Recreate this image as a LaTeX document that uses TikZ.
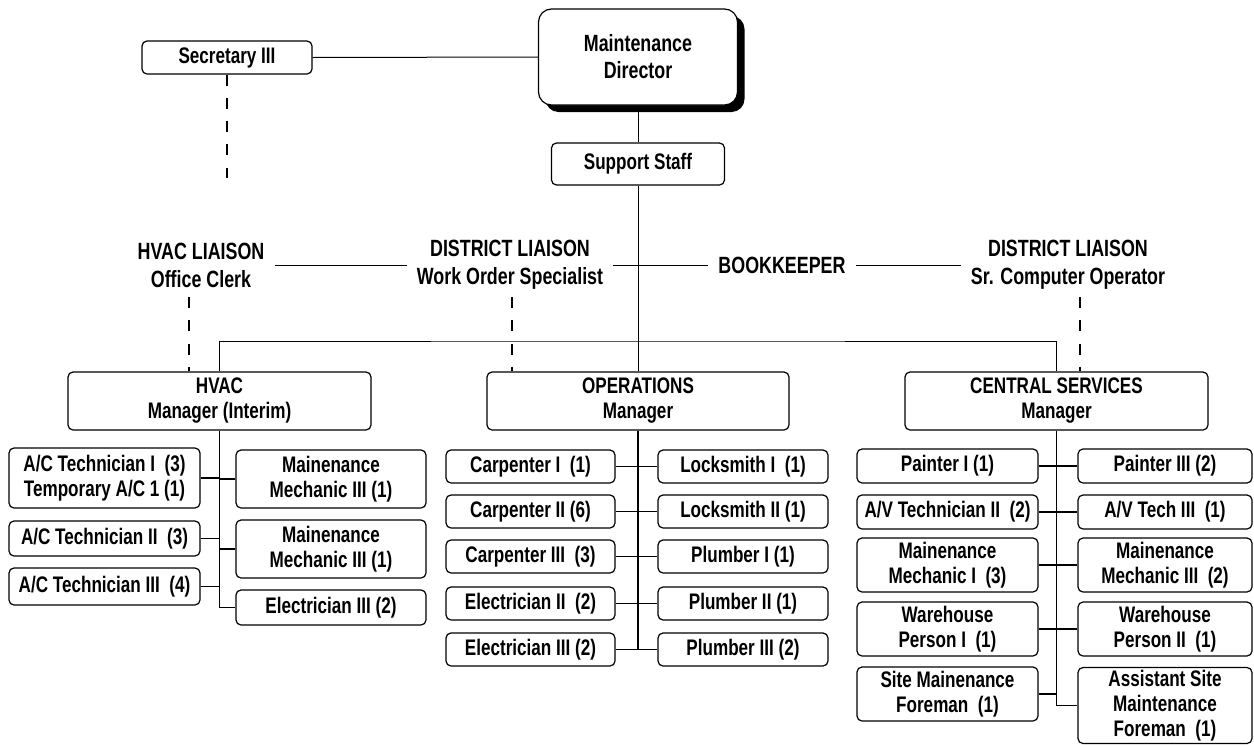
\documentclass[tikz,border=0pt]{standalone}
\usepackage{fontspec}
\setmainfont{Liberation Sans}[FakeStretch=0.76]
\usetikzlibrary{shadows}

\newcommand\boxfont{\fontsize{22.5}{25}\selectfont\bfseries}
\newcommand\liaisonfont{\fontsize{23.5}{28}\selectfont\bfseries}
\newcommand\headfont{\fontsize{23.5}{27}\selectfont\bfseries}

\tikzset{
  box/.style={draw, fill=white, rounded corners=5pt, line width=1.2pt,
    inner sep=0pt, align=center, font=\boxfont},
  sz/.style 2 args={minimum width=#1pt, minimum height=#2pt},
  liaison/.style={inner xsep=10pt, inner ysep=0pt, align=center, font=\liaisonfont},
  thinline/.style={line width=1pt},
  link/.style={line width=1.4pt},
  dotted link/.style={line width=2.6pt, dash pattern=on 11pt off 12.25pt},
}

\begin{document}
\begin{tikzpicture}[x=1pt, y=-1pt]
\useasboundingbox (0,0) rectangle (1254,745);

% ---- top of the chart ----
\node[box, sz={170}{33}] (sec) at (227,57.5) {Secretary III};
\node[box, sz={199}{96}, rounded corners=13pt, font=\headfont,
      drop shadow={shadow xshift=7pt, shadow yshift=-7pt, fill=black, opacity=1}]
      (dir) at (638,57) {Maintenance\\Director};
\node[box, sz={173}{42}] (sup) at (638,164) {Support Staff};

\coordinate (secEnd) at (227,178);
\draw[thinline] (sec.east) -- (dir.west);
\draw[dotted link] (sec.south) -- (secEnd);
\draw[thinline] (dir.south) -- (sup.north);

% ---- liaison row ----
\node[liaison] (hl)  at (201,265)  {HVAC LIAISON\\Office Clerk};
\node[liaison] (dl1) at (510,265)  {DISTRICT LIAISON\\Work Order Specialist};
\node[liaison] (bk)  at (782,265)  {BOOKKEEPER};
\node[liaison] (dl2) at (1068,265) {DISTRICT LIAISON\\Sr. Computer Operator};

\draw[thinline] (hl.east) -- (dl1.west);
\draw[thinline] (dl1.east) -- (bk.west);
\draw[thinline] (bk.east) -- (dl2.west);

% ---- managers ----
\node[box, sz={303}{58}] (hvac) at (219.5,401) {HVAC\\Manager (Interim)};
\node[box, sz={302}{58}] (ops)  at (638,401)   {OPERATIONS\\Manager};
\node[box, sz={303}{58}] (cs)   at (1056.5,401) {CENTRAL SERVICES\\Manager};

\coordinate (bar) at (638,341);
\draw[thinline] (sup.south) -- (ops.north);
\draw[thinline] (hvac.north) |- (bar) -| (cs.north);

\coordinate (hlD)  at (189,297);
\coordinate (dl1D) at (512,297);
\coordinate (dl2D) at (1080,297);
\draw[dotted link] (hlD)  -- (hlD |- hvac.north);
\draw[dotted link] (dl1D) -- (dl1D |- ops.north);
\draw[dotted link] (dl2D) -- (dl2D |- cs.north);

% ---- HVAC staff ----
\node[box, sz={191}{60}] (at1) at (104.5,478)   {A/C Technician I\ \ (3)\\Temporary A/C 1 (1)};
\node[box, sz={191}{35}] (at2) at (104.5,538.5) {A/C Technician II\ \ (3)};
\node[box, sz={191}{37}] (at3) at (104.5,586.5) {A/C Technician III\ \ (4)};
\node[box, sz={190}{58}] (hm1) at (331,479)     {Mainenance\\Mechanic III (1)};
\node[box, sz={190}{58}] (hm2) at (331,549)     {Mainenance\\Mechanic III (1)};
\node[box, sz={190}{35}] (he3) at (331,607.5)   {Electrician III (2)};

\draw[link] (hvac.south) -- (hvac.south |- he3.west) -- (he3.west);
\foreach \n in {at1,at2,at3}
  \draw[link] (\n.east) -- (\n.east -| hvac.south);
\foreach \n in {hm1,hm2}
  \draw[link] (\n.west) -- (\n.west -| hvac.south);

% ---- Operations staff ----
\node[box, sz={169}{33}] (o1l) at (530.5,466.5) {Carpenter I\ \ (1)};
\node[box, sz={169}{33}] (o2l) at (530.5,511.5) {Carpenter II (6)};
\node[box, sz={169}{33}] (o3l) at (530.5,556.5) {Carpenter III\ \ (3)};
\node[box, sz={169}{33}] (o4l) at (530.5,603.5) {Electrician II\ \ (2)};
\node[box, sz={169}{33}] (o5l) at (530.5,649.5) {Electrician III (2)};
\node[box, sz={170}{33}] (o1r) at (743,466.5)   {Locksmith I\ \ (1)};
\node[box, sz={170}{33}] (o2r) at (743,511.5)   {Locksmith II (1)};
\node[box, sz={170}{33}] (o3r) at (743,556.5)   {Plumber I (1)};
\node[box, sz={170}{33}] (o4r) at (743,603.5)   {Plumber II (1)};
\node[box, sz={170}{33}] (o5r) at (743,649.5)   {Plumber III (2)};

\draw[link] (ops.south) -- (ops.south |- o5l.east);
\foreach \i in {1,...,5}
  \draw[link] (o\i l.east) -- (o\i r.west);

% ---- Central Services staff ----
\node[box, sz={181}{34}] (c1l) at (947.5,466) {Painter I (1)};
\node[box, sz={181}{34}] (c2l) at (947.5,512) {A/V Technician II\ \ (2)};
\node[box, sz={181}{54}] (c3l) at (947.5,565) {Mainenance\\Mechanic I\ \ (3)};
\node[box, sz={181}{54}] (c4l) at (947.5,629) {Warehouse\\Person I\ \ (1)};
\node[box, sz={181}{54}] (c5l) at (947.5,694) {Site Mainenance\\Foreman\ \ (1)};
\node[box, sz={174}{34}] (c1r) at (1165,466)  {Painter III (2)};
\node[box, sz={174}{34}] (c2r) at (1165,512)  {A/V Tech III\ \ (1)};
\node[box, sz={174}{54}] (c3r) at (1165,565)  {Mainenance\\Mechanic III\ \ (2)};
\node[box, sz={174}{54}] (c4r) at (1165,629)  {Warehouse\\Person II\ \ (1)};
\node[box, sz={174}{76}] (c5r) at (1165,705.5) {Assistant Site\\Maintenance\\Foreman\ \ (1)};

\draw[link] (cs.south) -- (cs.south |- c5r.west) -- (c5r.west);
\foreach \i in {1,...,4}
  \draw[link] (c\i l.east) -- (c\i r.west);
\draw[link] (c5l.east) -- (c5l.east -| cs.south);
\end{tikzpicture}
\end{document}
